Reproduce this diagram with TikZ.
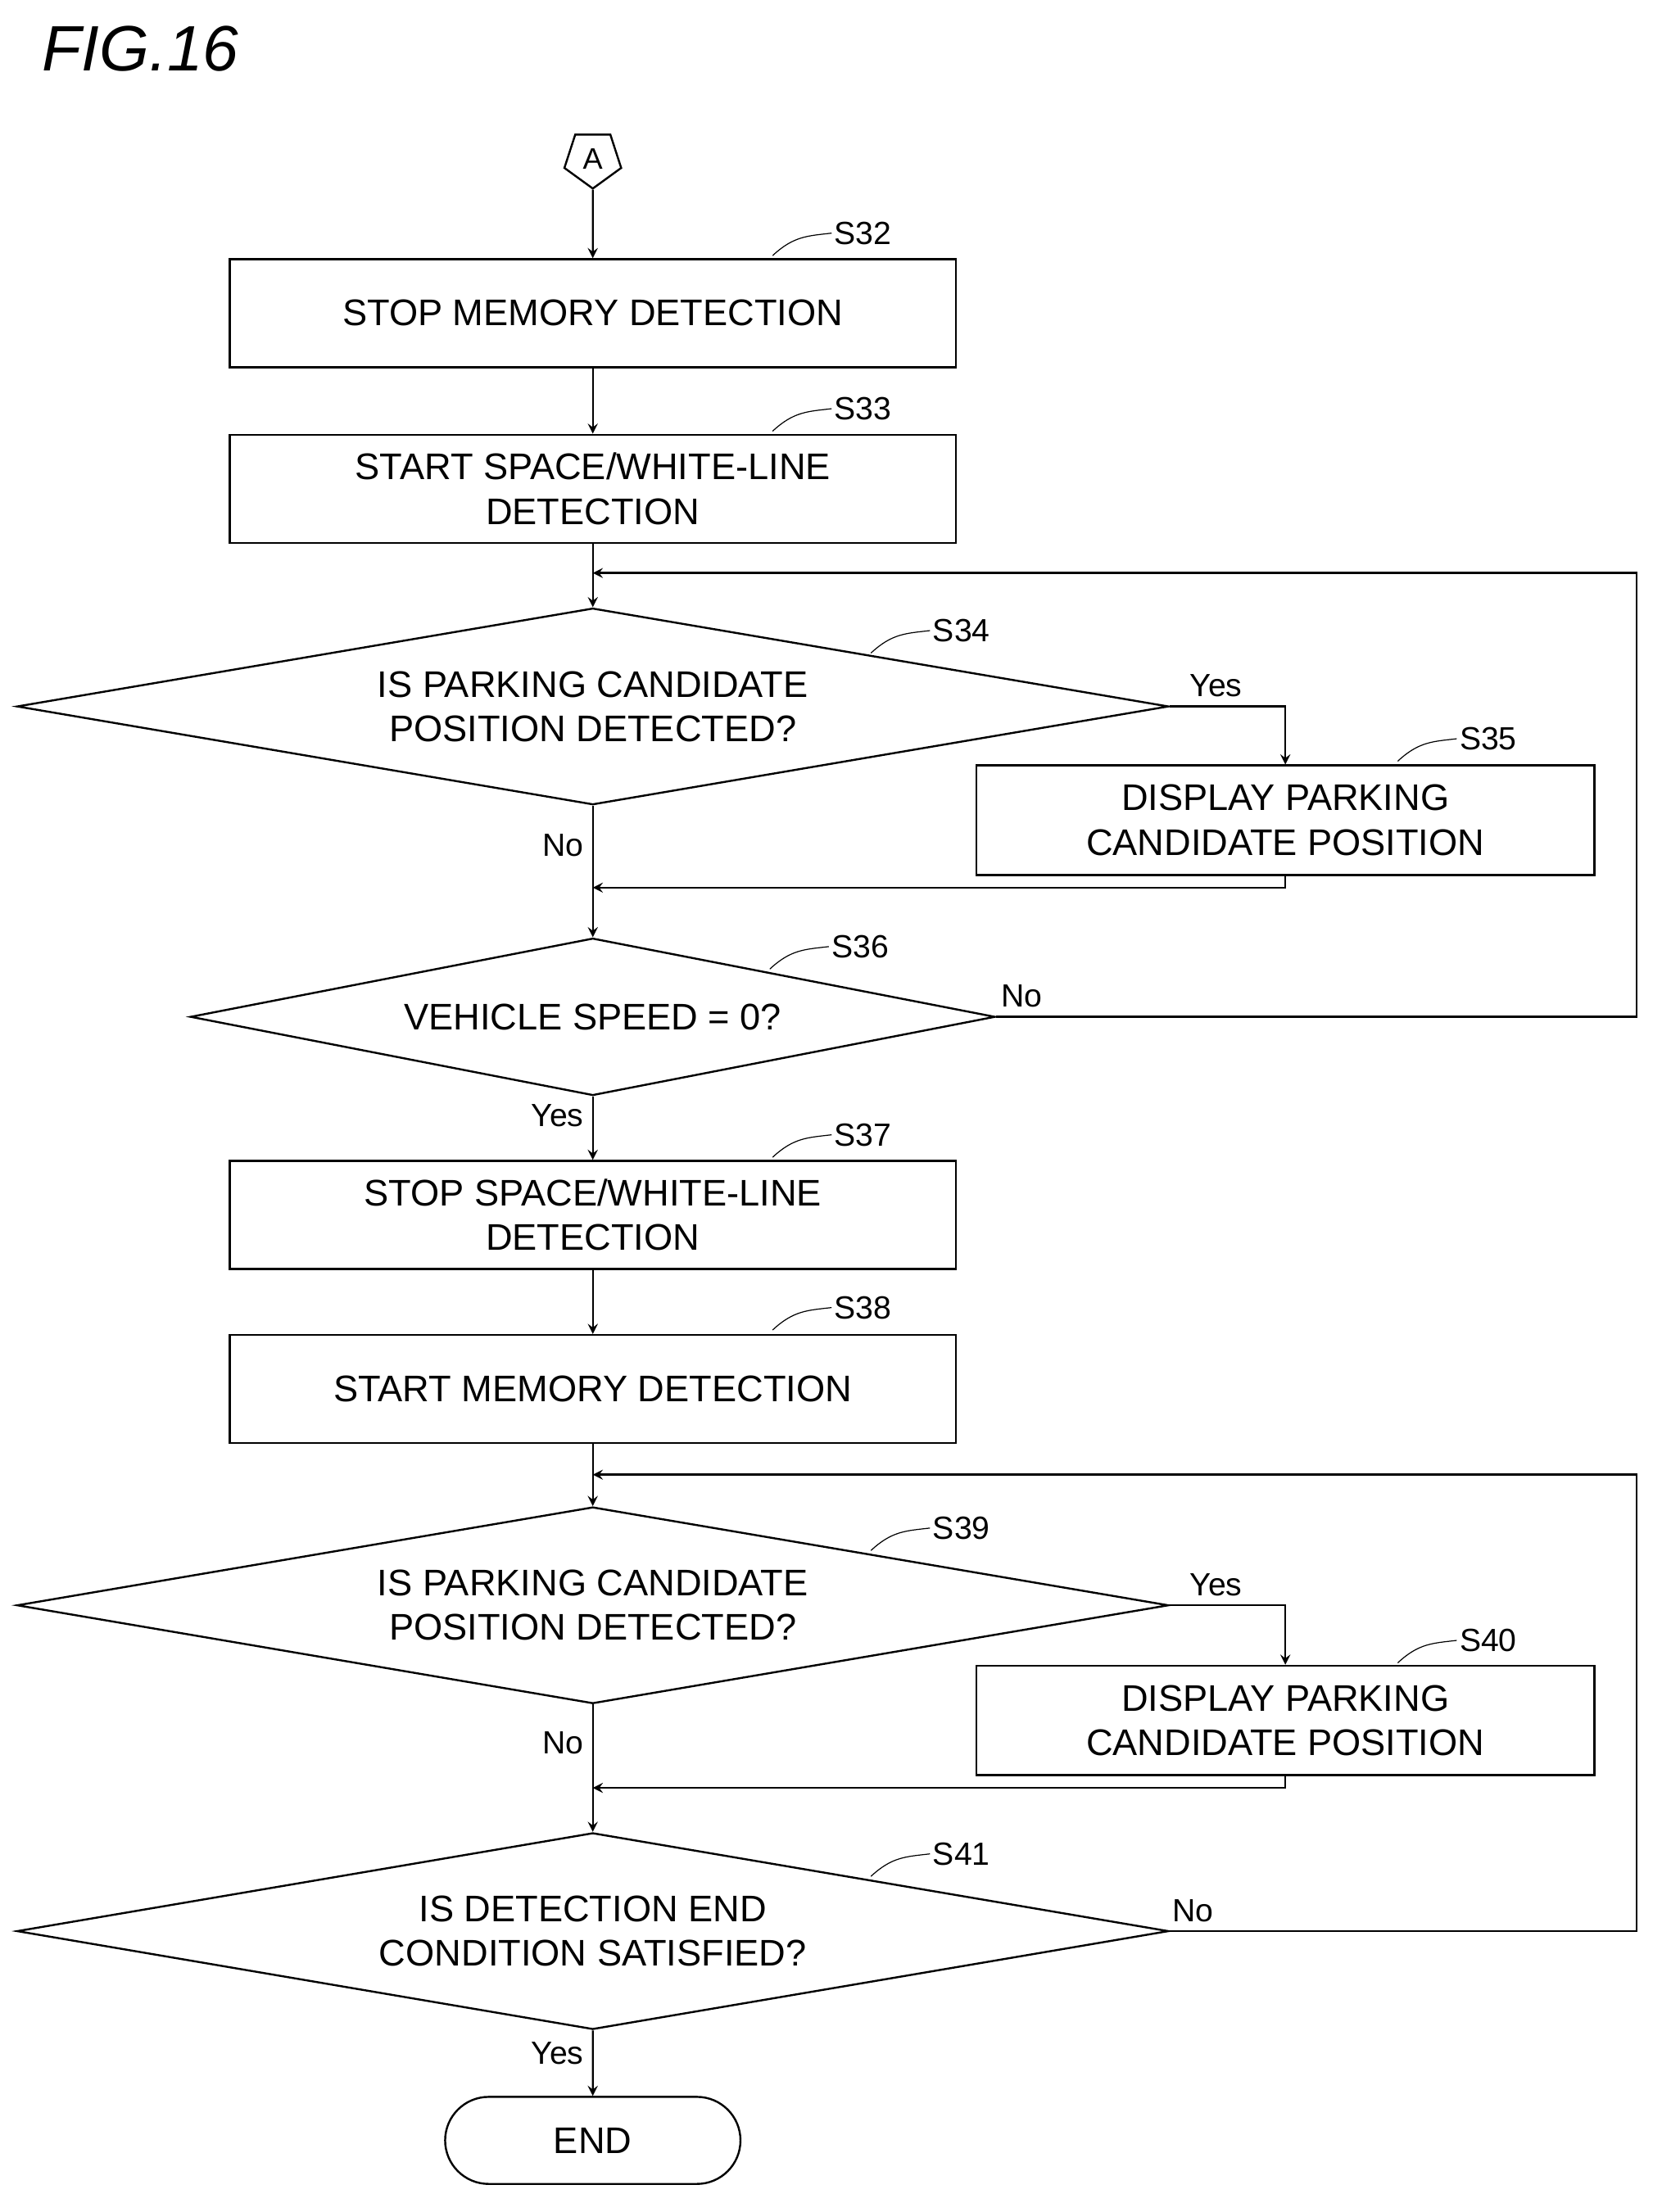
\documentclass[tikz,border=0pt]{standalone}
\usepackage{fontspec}
\setmainfont{Liberation Sans}
\usetikzlibrary{shapes.geometric, shapes.misc, arrows, positioning}
\tikzstyle{process} = [rectangle, draw=black, thick, minimum width=10.34cm, minimum height=1.54cm, align=center, font=\fontsize{15}{18}\selectfont]
\tikzstyle{side} = [rectangle, draw=black, thick, minimum width=8.8cm, minimum height=1.56cm, align=center, font=\fontsize{15}{18}\selectfont]
\tikzstyle{decision} = [diamond, aspect=5.86, draw=black, thick, inner sep=0pt, minimum width=16.4cm, minimum height=2.8cm, align=center, font=\fontsize{15}{18}\selectfont]
\tikzstyle{arrow} = [thick,->,>=stealth]
\tikzstyle{lbl} = [font=\fontsize{13}{15}\selectfont]
\begin{document}
\begin{tikzpicture}[x=0.02cm, y=-0.02cm]
		\useasboundingbox (0,0) rectangle (1183,1575);
		\node (Title) at (100,35) {\fontsize{26}{30}\selectfont\itshape FIG.16};
		
		\node (A) [draw, thick, regular polygon, regular polygon sides=5, shape border rotate=180, minimum size=0.85cm, inner sep=0pt, font=\fontsize{12}{14}\selectfont] at (422,113) {A};
		\node (S32) [process] at (422,223) {STOP MEMORY DETECTION};
		\node (S33) [process] at (422,348) {START SPACE/WHITE-LINE\\DETECTION};
		\node (S34) [decision] at (422,503) {IS PARKING CANDIDATE\\POSITION DETECTED?};
		\node (S35) [side] at (915,584) {DISPLAY PARKING\\CANDIDATE POSITION};
		\node (S36) [decision, aspect=5.1, minimum width=11.46cm, minimum height=2.24cm] at (422,724) {VEHICLE SPEED = 0?};
		\node (S37) [process] at (422,865) {STOP SPACE/WHITE-LINE\\DETECTION};
		\node (S38) [process] at (422,989) {START MEMORY DETECTION};
		\node (S39) [decision] at (422,1143) {IS PARKING CANDIDATE\\POSITION DETECTED?};
		\node (S40) [side] at (915,1225) {DISPLAY PARKING\\CANDIDATE POSITION};
		\node (S41) [decision] at (422,1375) {IS DETECTION END\\CONDITION SATISFIED?};
		\node (End) [draw, thick, rounded rectangle, minimum width=4.44cm, minimum height=1.24cm, font=\fontsize{15}{18}\selectfont] at (422,1524) {END};
		
		\coordinate (Loop1) at (422,408);
		\coordinate (Merge1) at (422,632);
		\coordinate (Loop2) at (422,1050);
		\coordinate (Merge2) at (422,1273);
		
		\draw [arrow] (A) -- (S32);
		\draw [arrow] (S32) -- (S33);
		\draw [arrow] (S33) -- (S34);
		\draw [arrow] (S34.east) -- node[pos=0.4, above, lbl]{Yes} (915,503) -- (S35);
		\draw [arrow] (S35.south) |- (Merge1);
		\draw [arrow] (S34.south) -- node[pos=0.3, left, lbl]{No} (S36);
		\draw [arrow] (S36.east) -- node[pos=0.04, above, lbl]{No} (1165,724) |- (Loop1);
		\draw [arrow] (S36.south) -- node[pos=0.3, left, lbl]{Yes} (S37);
		\draw [arrow] (S37) -- (S38);
		\draw [arrow] (S38) -- (S39);
		\draw [arrow] (S39.east) -- node[pos=0.4, above, lbl]{Yes} (915,1143) -- (S40);
		\draw [arrow] (S40.south) |- (Merge2);
		\draw [arrow] (S39.south) -- node[pos=0.3, left, lbl]{No} (S41);
		\draw [arrow] (S41.east) -- node[pos=0.05, above, lbl]{No} (1165,1375) |- (Loop2);
		\draw [arrow] (S41.south) -- node[pos=0.35, left, lbl]{Yes} (End);
		
		% step labels
		\foreach \n/\x/\y in {S32/550/182, S33/550/307, S34/620/465, S35/995/542, S36/548/690, S37/550/824, S38/550/947, S39/620/1104, S40/995/1184, S41/620/1336}
			\draw (\x,\y) .. controls (\x+15,\y-14) and (\x+25,\y-14) .. (\x+42,\y-16) node[right, lbl, inner sep=1pt]{\n};
\end{tikzpicture}
\end{document}
